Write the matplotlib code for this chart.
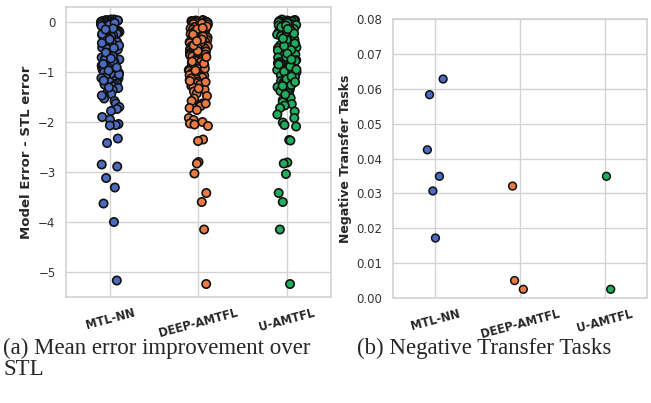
import numpy as np
import pandas as pd
import matplotlib
matplotlib.use("Agg")
import matplotlib.pyplot as plt
import seaborn as sns

methods = ["MTL-NN", "DEEP-AMTFL", "U-AMTFL"]
colors = ["#4a6bbf", "#ea7a43", "#21ad5e"]

# model error - STL error, per task
err_mtl = [
    0.05, 0.05, 0.04, 0.04, 0.03, 0.03, 0.02, 0.02, 0.01, 0.01, 0.00, 0.00,
    -0.01, -0.02, -0.02, -0.03, -0.04, -0.05, -0.06, -0.07, -0.08, -0.09,
    -0.10, -0.11, -0.12, -0.14, -0.15, -0.16, -0.17, -0.18, -0.20, -0.21,
    -0.22, -0.23, -0.25, -0.26, -0.27, -0.29, -0.30, -0.31, -0.33, -0.34,
    -0.36, -0.37, -0.38, -0.40, -0.41, -0.43, -0.44, -0.45, -0.47, -0.48,
    -0.50, -0.51, -0.53, -0.54, -0.56, -0.57, -0.59, -0.60, -0.62, -0.63,
    -0.65, -0.66, -0.68, -0.70, -0.71, -0.73, -0.75, -0.76, -0.78, -0.80,
    -0.81, -0.83, -0.85, -0.87, -0.88, -0.90, -0.92, -0.94, -0.96, -0.98,
    -1.00, -1.02, -1.04, -1.06, -1.08, -1.10, -1.13, -1.15, -1.18, -1.20,
    -1.23, -1.26, -1.29, -1.32, -1.36, -1.40, -1.44, -1.49, -1.53, -1.58,
    -1.63, -1.70, -1.74, -1.78, -1.90, -1.95, -2.04, -2.06, -2.07,
    -0.06, -0.19, -0.28, -0.42, -0.55, -0.69, -0.84, -0.97, -1.12, -1.25,
    -0.02, -0.13, -0.35, -0.61, -0.79, -1.05, -1.31, -1.47,
    -0.08, -0.24, -0.47, -0.73, -0.91, -1.17, -0.15, -0.52,
    -2.33, -2.42, -2.85, -2.89, -3.12, -3.31, -3.63, -4.00, -5.17,
]
err_deep = [
    0.04, 0.03, 0.03, 0.02, 0.02, 0.01, 0.01, 0.00, 0.00, -0.01, -0.01,
    -0.02, -0.03, -0.04, -0.05, -0.06, -0.07, -0.08, -0.10, -0.11, -0.12,
    -0.13, -0.15, -0.16, -0.17, -0.19, -0.20, -0.21, -0.23, -0.24, -0.26,
    -0.27, -0.28, -0.30, -0.31, -0.33, -0.34, -0.36, -0.37, -0.39, -0.40,
    -0.42, -0.43, -0.45, -0.46, -0.48, -0.49, -0.51, -0.53, -0.54, -0.56,
    -0.57, -0.59, -0.61, -0.62, -0.64, -0.66, -0.67, -0.69, -0.71, -0.73,
    -0.74, -0.76, -0.78, -0.80, -0.82, -0.84, -0.86, -0.88, -0.90, -0.92,
    -0.94, -0.96, -0.98, -1.00, -1.02, -1.04, -1.07, -1.09, -1.11, -1.14,
    -1.16, -1.19, -1.22, -1.25, -1.28, -1.31, -1.35, -1.39, -1.43, -1.48,
    -1.53, -1.58, -1.63, -1.66, -1.68, -1.72, -1.76, -1.92, -1.96, -2.00,
    -2.03, -2.05, -2.08,
    -0.05, -0.18, -0.29, -0.41, -0.52, -0.65, -0.79, -0.93, -1.06, -1.20,
    -0.03, -0.14, -0.35, -0.58, -0.83, -1.13, -1.33, -1.63,
    -0.09, -0.25, -0.47, -0.70, -0.97, -1.18, -0.12, -0.38,
    -2.35, -2.38, -2.80, -2.83, -3.03, -3.42, -3.60, -4.15, -5.24,
]
err_u = [
    0.05, 0.04, 0.03, 0.03, 0.02, 0.02, 0.01, 0.01, 0.00, 0.00, -0.01,
    -0.02, -0.03, -0.04, -0.05, -0.06, -0.07, -0.08, -0.09, -0.11, -0.12,
    -0.13, -0.14, -0.16, -0.17, -0.18, -0.20, -0.21, -0.22, -0.24, -0.25,
    -0.27, -0.28, -0.29, -0.31, -0.32, -0.34, -0.35, -0.37, -0.38, -0.40,
    -0.41, -0.43, -0.44, -0.46, -0.47, -0.49, -0.51, -0.52, -0.54, -0.55,
    -0.57, -0.59, -0.60, -0.62, -0.64, -0.65, -0.67, -0.69, -0.71, -0.72,
    -0.74, -0.76, -0.78, -0.80, -0.82, -0.84, -0.86, -0.88, -0.90, -0.92,
    -0.94, -0.96, -0.98, -1.00, -1.03, -1.05, -1.07, -1.10, -1.12, -1.15,
    -1.18, -1.21, -1.24, -1.27, -1.30, -1.34, -1.38, -1.42, -1.47, -1.52,
    -1.56, -1.60, -1.64, -1.67, -1.72, -1.79, -1.85, -1.92, -2.01, -2.06,
    -2.09,
    -0.04, -0.17, -0.30, -0.43, -0.56, -0.70, -0.85, -0.99, -1.14, -1.28,
    -0.02, -0.10, -0.36, -0.63, -0.89, -1.09, -1.26, -1.45,
    -0.07, -0.23, -0.48, -0.75, -0.95, -1.20, -0.14, -0.33,
    -2.36, -2.37, -2.81, -2.83, -3.04, -3.42, -3.60, -4.15, -5.24,
]

# fraction of negative transfer tasks
neg_mtl = [0.0628, 0.0583, 0.0425, 0.0349, 0.0307, 0.0172]
neg_deep = [0.0321, 0.0050, 0.0025]
neg_u = [0.0349, 0.0025]

err_df = pd.DataFrame({
    "method": [methods[0]] * len(err_mtl) + [methods[1]] * len(err_deep) + [methods[2]] * len(err_u),
    "value": err_mtl + err_deep + err_u,
})
neg_df = pd.DataFrame({
    "method": [methods[0]] * len(neg_mtl) + [methods[1]] * len(neg_deep) + [methods[2]] * len(neg_u),
    "value": neg_mtl + neg_deep + neg_u,
})

sns.set_style("whitegrid")
np.random.seed(3)

fig = plt.figure(figsize=(6.51, 4.03), dpi=100)
ax1 = fig.add_axes([0.1014, 0.263, 0.4070, 0.7196])
ax2 = fig.add_axes([0.6037, 0.2605, 0.3902, 0.6923])

sns.stripplot(data=err_df, x="method", y="value", hue="method", palette=colors,
              order=methods, size=6, linewidth=1.2, edgecolor="#111111",
              jitter=0.11, legend=False, ax=ax1)
sns.stripplot(data=neg_df, x="method", y="value", hue="method", palette=colors,
              order=methods, size=5.6, linewidth=1.1, edgecolor="#111111",
              legend=False, ax=ax2)

ax1.set_ylim(-5.5, 0.3)
ax1.set_xlim(-0.5, 2.5)
ax1.set_yticks([0, -1, -2, -3, -4, -5])
ax1.set_ylabel("Model Error - STL error", fontsize=9.5, fontweight="bold")

ax2.set_ylim(0, 0.08)
ax2.set_xlim(-0.5, 2.5)
ax2.set_yticks(np.arange(0, 0.081, 0.01))
ax2.set_yticklabels(["%.2f" % v for v in np.arange(0, 0.081, 0.01)])
ax2.set_ylabel("Negative Transfer Tasks", fontsize=9, fontweight="bold", labelpad=3)

for ax in (ax1, ax2):
    ax.set_xlabel("")
    ax.tick_params(axis="y", labelsize=8.5, colors="#333333", pad=4)
    ax.tick_params(axis="x", pad=3)
    for lab in ax.get_xticklabels():
        lab.set_rotation(15)
        lab.set_fontsize(8.3)
        lab.set_fontweight("bold")
        lab.set_color("#262626")
    ax.grid(True, color="#d3d3d3", linewidth=1.0)
    for sp in ax.spines.values():
        sp.set_color("#d3d3d3")
        sp.set_linewidth(1.2)

fig.text(0.005, 0.162, "(a) Mean error improvement over\nSTL", fontsize=16.5,
         family="Liberation Serif", ha="left", va="top", linespacing=1.0)
fig.text(0.548, 0.162, "(b) Negative Transfer Tasks", fontsize=16.5,
         family="Liberation Serif", ha="left", va="top")

fig.savefig("out.png", dpi=100)
